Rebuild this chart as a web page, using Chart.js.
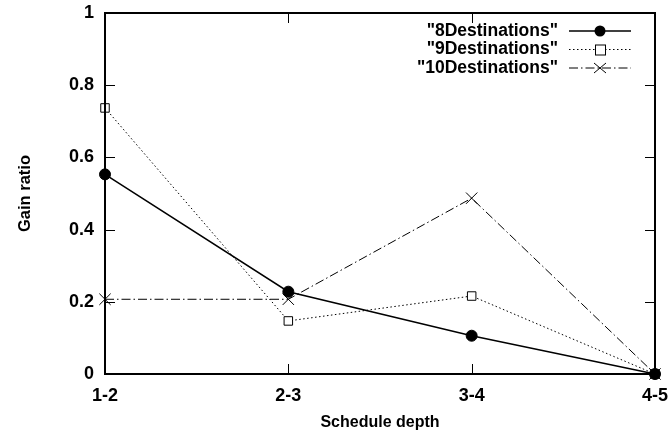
<!DOCTYPE html>
<html><head><meta charset="utf-8">
<script src="https://cdn.jsdelivr.net/npm/chart.js@4/dist/chart.umd.min.js"></script>
<style>html,body{margin:0;padding:0;background:#fff}#wrap{width:669px;height:436px}</style>
</head><body><div id="wrap"><canvas id="c" width="669" height="436"></canvas></div>
<script>
const categories = ["1-2", "2-3", "3-4", "4-5"];
const yTicks = [0, 0.2, 0.4, 0.6, 0.8, 1];
const dest8 = [0.553, 0.228, 0.106, 0];
const dest9 = [0.737, 0.147, 0.216, 0];
const dest10 = [0.207, 0.207, 0.487, 0];
const seriesNames = ['"8Destinations"', '"9Destinations"', '"10Destinations"'];

const FONT = "'Liberation Sans', Arial, sans-serif";

const frameAndLegend = {
  id: 'frameAndLegend',
  afterDatasetsDraw(chart) {
    const {ctx, chartArea: a, scales: {x, y}} = chart;
    ctx.save();
    ctx.strokeStyle = '#000';
    ctx.lineWidth = 2;
    ctx.strokeRect(a.left, a.top, a.right - a.left, a.bottom - a.top);
    ctx.lineWidth = 1;
    const tl = 10;
    ctx.beginPath();
    yTicks.forEach(v => {
      const py = Math.round(y.getPixelForValue(v)) + 0.5;
      ctx.moveTo(a.left, py); ctx.lineTo(a.left + tl, py);
      ctx.moveTo(a.right, py); ctx.lineTo(a.right - tl, py);
    });
    categories.forEach((c, i) => {
      const px = Math.round(x.getPixelForValue(i)) + 0.5;
      ctx.moveTo(px, a.bottom); ctx.lineTo(px, a.bottom - tl);
      ctx.moveTo(px, a.top); ctx.lineTo(px, a.top + tl);
    });
    ctx.stroke();
    // legend
    ctx.font = "bold 17.5px " + FONT;
    ctx.textAlign = 'right';
    ctx.textBaseline = 'middle';
    ctx.fillStyle = '#000';
    const textRight = 558, lx0 = 569, lx1 = 631, mx = 600;
    chart.data.datasets.forEach((ds, i) => {
      const ly = 31 + i * 18.5;
      ctx.fillText(ds.label, textRight, ly);
      ctx.beginPath();
      ctx.setLineDash(ds.borderDash || []);
      ctx.lineWidth = ds.borderWidth;
      ctx.moveTo(lx0, ly); ctx.lineTo(lx1, ly);
      ctx.stroke();
      ctx.setLineDash([]);
      ctx.lineWidth = 1;
      if (ds.pointStyle === 'circle') {
        ctx.beginPath(); ctx.arc(mx, ly, ds.pointRadius, 0, Math.PI * 2); ctx.fill();
      } else if (ds.pointStyle === 'rect') {
        ctx.fillStyle = '#fff';
        ctx.fillRect(mx - 5, ly - 5, 10, 10);
        ctx.strokeRect(mx - 5 + 0.5, ly - 5 + 0.5, 10, 10);
        ctx.fillStyle = '#000';
      } else {
        ctx.beginPath();
        ctx.moveTo(mx - 6, ly - 5); ctx.lineTo(mx + 6, ly + 5);
        ctx.moveTo(mx + 6, ly - 5); ctx.lineTo(mx - 6, ly + 5);
        ctx.stroke();
      }
    });
    ctx.restore();
  }
};

function zeroPad(s) { s.paddingLeft = 0; s.paddingRight = 0; s.paddingTop = 0; s.paddingBottom = 0; }

new Chart(document.getElementById('c'), {
  type: 'line',
  data: {
    labels: categories,
    datasets: [
      {label: seriesNames[0], data: dest8, borderColor: '#000', backgroundColor: '#000', borderWidth: 1.5,
       pointStyle: 'circle', pointRadius: 5.5, pointBorderWidth: 1, tension: 0, clip: false},
      {label: seriesNames[1], data: dest9, borderColor: '#000', backgroundColor: '#fff', borderWidth: 1,
       borderDash: [1.5, 2.5], pointStyle: 'rect', pointRadius: 6, pointBorderWidth: 1, tension: 0, clip: false},
      {label: seriesNames[2], data: dest10, borderColor: '#000', backgroundColor: '#000', borderWidth: 1,
       borderDash: [9, 3, 1.5, 3], pointStyle: 'cross', pointRotation: 45, pointRadius: 8, pointBorderWidth: 1, tension: 0, clip: false}
    ]
  },
  options: {
    responsive: false,
    animation: false,
    devicePixelRatio: 1,
    layout: {padding: {top: 13, right: 14, bottom: 4, left: 9}},
    plugins: {legend: {display: false}, tooltip: {enabled: false}},
    scales: {
      x: {
        type: 'category', offset: false,
        afterFit(s) { zeroPad(s); s.height = 58; },
        grid: {display: false, drawTicks: false},
        border: {display: false},
        ticks: {color: '#000', font: {family: FONT, weight: 'bold', size: 18}, padding: 11, maxRotation: 0, autoSkip: false},
        title: {display: true, text: 'Schedule depth', color: '#000', font: {family: FONT, weight: 'bold', size: 16}, padding: {top: 6, bottom: 0}}
      },
      y: {
        min: 0, max: 1,
        afterBuildTicks(s) { s.ticks = yTicks.map(v => ({value: v})); },
        afterFit(s) { s.width = 96; zeroPad(s); },
        grid: {display: false, drawTicks: false},
        border: {display: false},
        ticks: {color: '#000', font: {family: FONT, weight: 'bold', size: 18}, padding: 11,
                callback: v => String(v)},
        title: {display: true, text: 'Gain ratio', color: '#000', font: {family: FONT, weight: 'bold', size: 16.5}, padding: {top: 7, bottom: 0}}
      }
    }
  },
  plugins: [frameAndLegend]
});
</script></body></html>
